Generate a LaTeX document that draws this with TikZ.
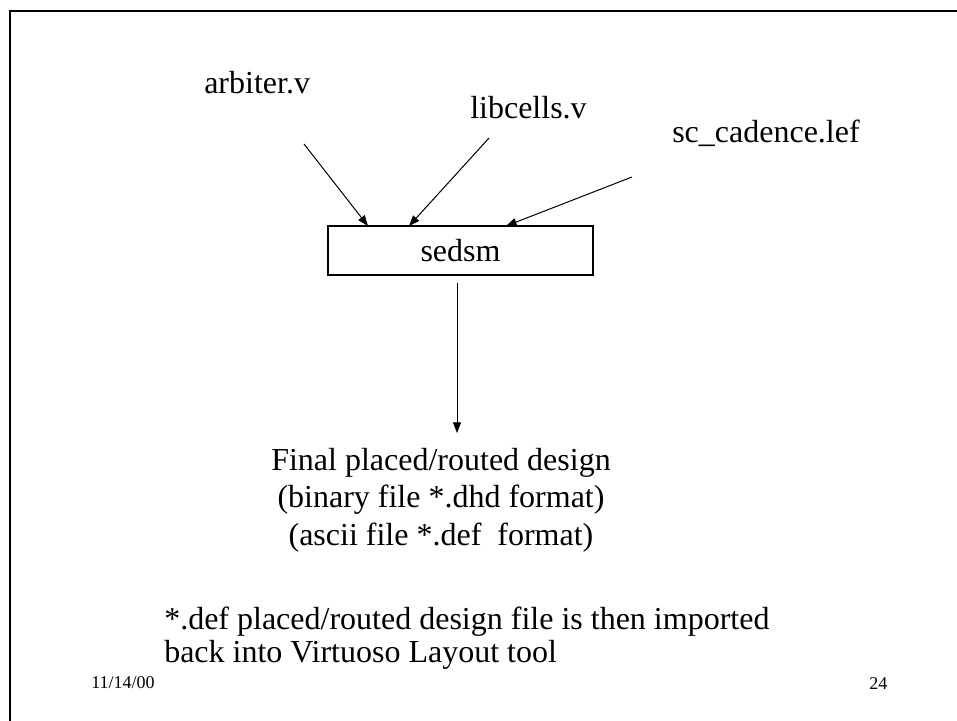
\documentclass[tikz,border=0pt]{standalone}
\usepackage{fontspec}
\setmainfont{Liberation Serif}
\usetikzlibrary{arrows.meta,calc}
\begin{document}
\begin{tikzpicture}[x=0.75pt,y=-0.75pt,
  lbl/.style={inner sep=0pt, font=\fontsize{24}{29}\selectfont},
  small/.style={inner sep=0pt, font=\fontsize{13.5}{16}\selectfont},
  proc/.style={draw, line width=0.8pt, inner sep=0pt, minimum width=198.75pt, minimum height=36.75pt, font=\fontsize{24}{29}\selectfont},
  arr/.style={line width=0.75pt, -{Triangle[length=8pt,width=6pt]}},
  frame/.style={line width=1.7pt}]
\useasboundingbox (0,0) rectangle (957,721);
\draw[frame] (10,721) -- (10,11) -- (957,11);
\node[lbl, anchor=base west] (arb) at (204,93) {arbiter.v};
\node[lbl, anchor=base west] (lib) at (470,118) {libcells.v};
\node[lbl, anchor=base west] (sc) at (672,142) {sc\_cadence.lef};
\node[proc] (sedsm) at (460.5,250.5) {sedsm};
\coordinate (a1) at (304,144);
\coordinate (a2) at (489,138);
\coordinate (a3) at (632,177);
\coordinate (e1) at (368,226);
\coordinate (e2) at (409,226);
\coordinate (e3) at (506,226);
\draw[arr] (a1) -- (e1);
\draw[arr] (a2) -- (e2);
\draw[arr] (a3) -- (e3);
\node[lbl, anchor=base, align=center, font=\fontsize{24}{27.9}\selectfont] (final) at (441,545)
  {Final placed/routed design\\(binary file *.dhd format)\\(ascii file *.def~ format)};
\coordinate (v1) at (457,283);
\coordinate (v2) at (457,433);
\draw[arr] (v1) -- (v2);
\node[lbl, anchor=base west, align=left, font=\fontsize{24}{24.75}\selectfont] (note) at (164,662)
  {*.def placed/routed design file is then imported\\back into Virtuoso Layout tool};
\node[small, anchor=base west] (date) at (91,688) {11/14/00};
\node[small, anchor=base west] (page) at (869,689) {24};
\end{tikzpicture}
\end{document}
